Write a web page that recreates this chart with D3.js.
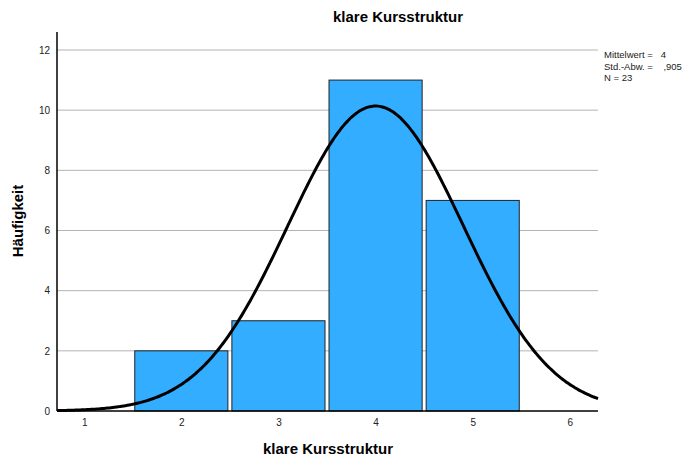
<!DOCTYPE html>
<html><head><meta charset="utf-8">
<script src="https://cdn.jsdelivr.net/npm/d3@7"></script>
<style>body{margin:0;background:#fff}svg{font-family:Arial,"Liberation Sans",sans-serif}</style>
</head><body><svg id="c" width="685" height="462"></svg>
<script>
const categories = [2, 3, 4, 5];
const counts = [2, 3, 11, 7];
const xTicks = [1, 2, 3, 4, 5, 6];
const yTicks = [0, 2, 4, 6, 8, 10, 12];
const meanVal = 4, sdVal = 0.905, nVal = 23;
const legendLines = ["Mittelwert =   4", "Std.-Abw. =    ,905", "N = 23"];

const svg = d3.select("#c");
const L = 57, R = 598, T = 32, B = 411;
const x = d3.scaleLinear().domain([0.72, 6.29]).range([L, R]);
const y = d3.scaleLinear().domain([0, 12]).range([B, 50]);

// grid
svg.append("g").selectAll("line").data(yTicks.filter(d => d > 0)).join("line")
  .attr("x1", L).attr("x2", R).attr("y1", d => y(d)).attr("y2", d => y(d))
  .attr("stroke", "#b4b4b4").attr("stroke-width", 1);

// bars
svg.append("g").selectAll("rect").data(categories).join("rect")
  .attr("x", (d) => x(d - 0.5) + 2)
  .attr("width", (d) => x(d + 0.5) - x(d - 0.5) - 4)
  .attr("y", (d, i) => y(counts[i]))
  .attr("height", (d, i) => y(0) - y(counts[i]))
  .attr("fill", "#33adff").attr("stroke", "#222").attr("stroke-width", 1);

// normal curve
const dens = v => nVal * 1 / (sdVal * Math.sqrt(2 * Math.PI)) * Math.exp(-0.5 * ((v - meanVal) / sdVal) ** 2);
const xs = d3.range(0, 301).map(i => 0.72 + (6.29 - 0.72) * i / 300);
svg.append("path").datum(xs)
  .attr("d", d3.line().x(d => x(d)).y(d => y(dens(d))).curve(d3.curveBasis))
  .attr("fill", "none").attr("stroke", "#000").attr("stroke-width", 3);

// axes
const ya = svg.append("g").attr("transform", `translate(${L},0)`)
  .call(d3.axisLeft(y).tickValues(yTicks).tickSize(0).tickPadding(7));
ya.select(".domain").remove();
svg.append("line").attr("x1", L).attr("x2", L).attr("y1", T).attr("y2", B).attr("stroke", "#000").attr("stroke-width", 1.5);
ya.selectAll("text").attr("font-size", 10).attr("fill", "#222").attr("font-family", "Arial,'Liberation Sans',sans-serif");

const xa = svg.append("g").attr("transform", `translate(0,${B})`)
  .call(d3.axisBottom(x).tickValues(xTicks).tickSize(0).tickPadding(8).tickFormat(d3.format("d")));
xa.select(".domain").remove();
xa.selectAll("text").attr("font-size", 10).attr("fill", "#222").attr("font-family", "Arial,'Liberation Sans',sans-serif");
svg.append("line").attr("x1", L).attr("x2", R).attr("y1", B).attr("y2", B).attr("stroke", "#000").attr("stroke-width", 1.5);

// titles
svg.append("text").attr("x", 398).attr("y", 22).attr("text-anchor", "middle")
  .attr("font-size", 15).attr("font-weight", "bold").text("klare Kursstruktur");
svg.append("text").attr("x", 328).attr("y", 454).attr("text-anchor", "middle")
  .attr("font-size", 15).attr("font-weight", "bold").text("klare Kursstruktur");
svg.append("text").attr("transform", "translate(23,221) rotate(-90)").attr("text-anchor", "middle")
  .attr("font-size", 15).attr("font-weight", "bold").text("Häufigkeit");

// legend
svg.append("g").selectAll("text").data(legendLines).join("text")
  .attr("x", 604).attr("y", (d, i) => 58 + i * 11.5)
  .attr("font-size", 9.5).attr("fill", "#222").attr("xml:space", "preserve").style("white-space", "pre").text(d => d);
</script></body></html>
